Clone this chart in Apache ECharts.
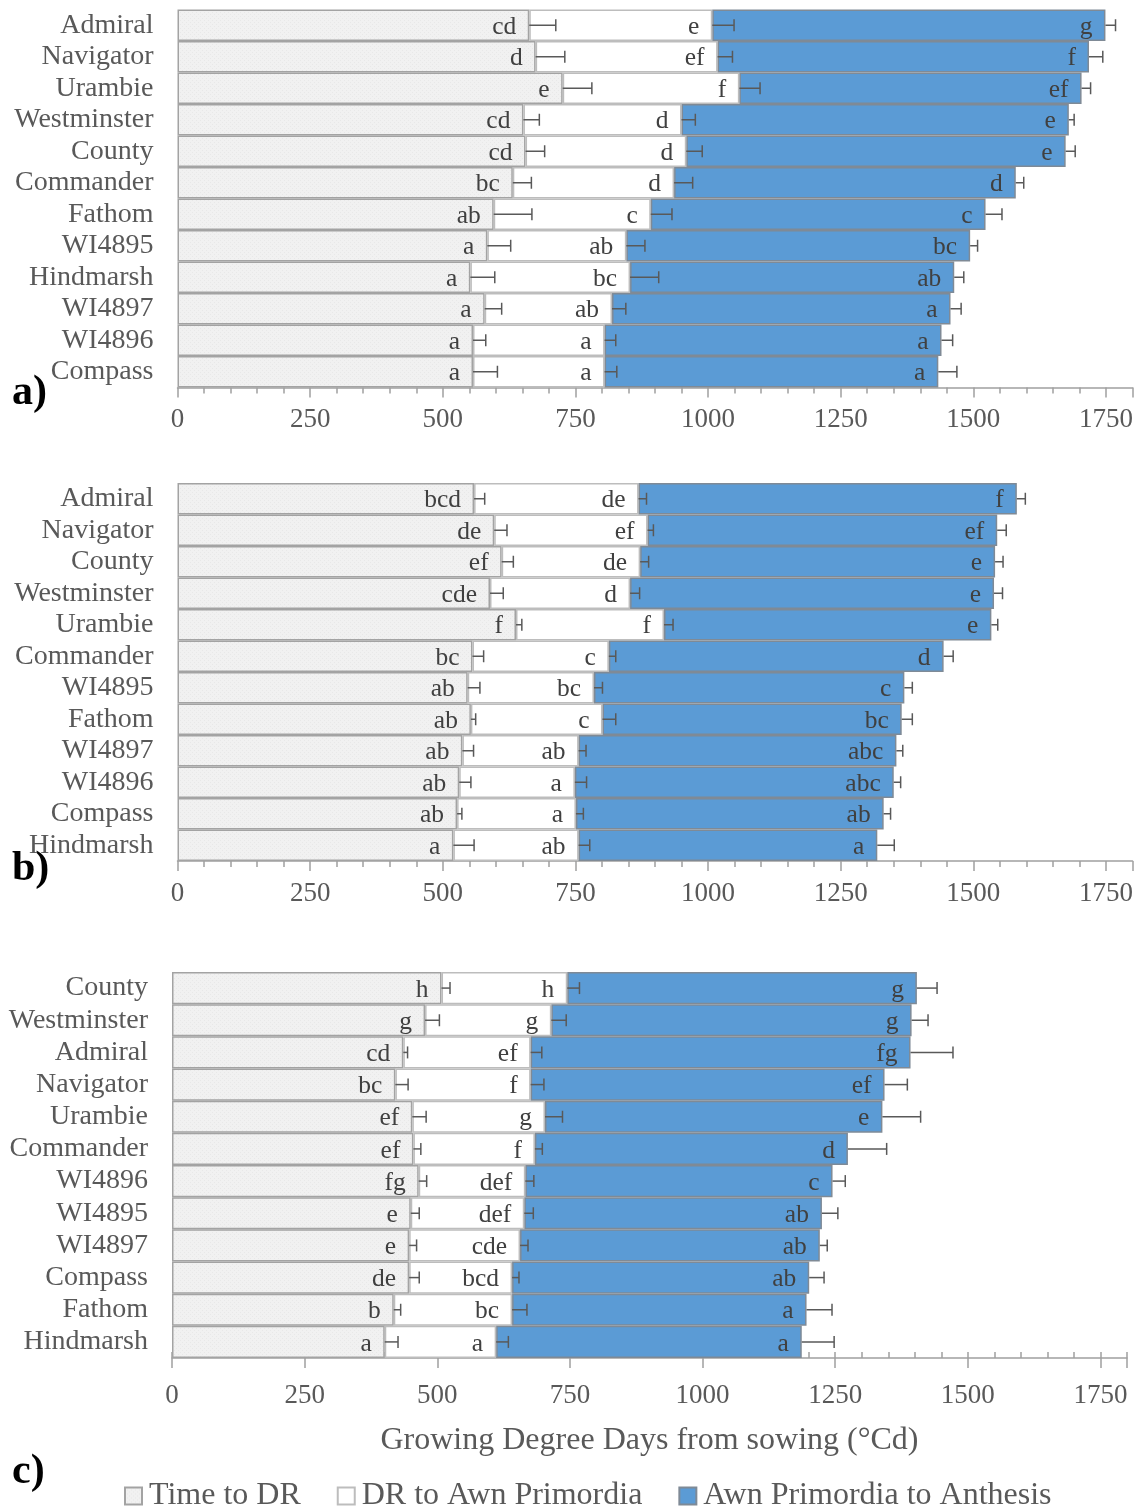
<!DOCTYPE html>
<html>
<head>
<meta charset="utf-8">
<script src="https://cdn.jsdelivr.net/npm/echarts@6/dist/echarts.min.js"></script>
<style>
  html, body { margin: 0; padding: 0; background: #ffffff; }
  #chart { width: 1142px; height: 1510px; }
</style>
</head>
<body>
<div id="chart"></div>
<script>
// ---- Panel a) ----
const catsA = ['Admiral', 'Navigator', 'Urambie', 'Westminster', 'County', 'Commander', 'Fathom', 'WI4895', 'Hindmarsh', 'WI4897', 'WI4896', 'Compass'];
const drA   = [663, 675, 726, 652, 656, 632, 596, 584, 552, 579, 557, 557];
const awnA  = [345, 343, 333, 298, 303, 304, 296, 262, 301, 240, 248, 248];
const anthA = [741, 700, 645, 730, 715, 644, 631, 648, 611, 638, 635, 629];
const errDrA   = [50, 55, 55, 30, 36, 35, 72, 44, 46, 32, 24, 46];
const errAwnA  = [41, 28, 39, 26, 30, 35, 40, 35, 54, 26, 21, 23];
const errAnthA = [19, 26, 17, 10, 18, 15, 31, 14, 18, 20, 21, 35];
const letDrA   = ['cd', 'd', 'e', 'cd', 'cd', 'bc', 'ab', 'a', 'a', 'a', 'a', 'a'];
const letAwnA  = ['e', 'ef', 'f', 'd', 'd', 'd', 'c', 'ab', 'bc', 'ab', 'a', 'a'];
const letAnthA = ['g', 'f', 'ef', 'e', 'e', 'd', 'c', 'bc', 'ab', 'a', 'a', 'a'];

// ---- Panel b) ----
const catsB = ['Admiral', 'Navigator', 'County', 'Westminster', 'Urambie', 'Commander', 'WI4895', 'Fathom', 'WI4897', 'WI4896', 'Compass', 'Hindmarsh'];
const drB   = [559, 597, 611, 589, 638, 556, 547, 553, 537, 531, 527, 520];
const awnB  = [310, 289, 261, 264, 279, 257, 238, 248, 219, 218, 224, 236];
const anthB = [713, 659, 669, 686, 617, 631, 585, 564, 599, 601, 580, 563];
const errDrB   = [20, 24, 22, 25, 11, 21, 23, 9, 21, 22, 9, 39];
const errAwnB  = [15, 11, 16, 18, 17, 13, 16, 25, 14, 22, 14, 21];
const errAnthB = [16, 17, 15, 16, 12, 18, 15, 20, 12, 13, 13, 32];
const letDrB   = ['bcd', 'de', 'ef', 'cde', 'f', 'bc', 'ab', 'ab', 'ab', 'ab', 'ab', 'a'];
const letAwnB  = ['de', 'ef', 'de', 'd', 'f', 'c', 'bc', 'c', 'ab', 'a', 'a', 'ab'];
const letAnthB = ['f', 'ef', 'e', 'e', 'e', 'd', 'c', 'bc', 'abc', 'abc', 'ab', 'a'];

// ---- Panel c) ----
const catsC = ['County', 'Westminster', 'Admiral', 'Navigator', 'Urambie', 'Commander', 'WI4896', 'WI4895', 'WI4897', 'Compass', 'Fathom', 'Hindmarsh'];
const drC   = [508, 477, 436, 421, 453, 455, 465, 450, 447, 447, 418, 401];
const awnC  = [237, 238, 240, 255, 250, 229, 201, 214, 209, 194, 223, 210];
const anthC = [659, 679, 716, 667, 636, 590, 579, 561, 565, 560, 555, 576];
const errDrC   = [16, 27, 8, 24, 26, 14, 15, 16, 14, 19, 13, 25];
const errAwnC  = [23, 28, 21, 25, 33, 14, 16, 17, 15, 13, 28, 23];
const errAnthC = [38, 31, 80, 43, 72, 73, 24, 30, 14, 28, 48, 61];
const letDrC   = ['h', 'g', 'cd', 'bc', 'ef', 'ef', 'fg', 'e', 'e', 'de', 'b', 'a'];
const letAwnC  = ['h', 'g', 'ef', 'f', 'g', 'f', 'def', 'def', 'cde', 'bcd', 'bc', 'a'];
const letAnthC = ['g', 'g', 'fg', 'ef', 'e', 'd', 'c', 'ab', 'ab', 'ab', 'a', 'a'];

// ---- Shared axis / legend text ----
const tickLabels = [0, 250, 500, 750, 1000, 1250, 1500, 1750];
const seriesNames = ['Time to DR', 'DR to Awn Primordia', 'Awn Primordia to Anthesis'];
const axisTitle = 'Growing Degree Days from sowing (°Cd)';
const panelTags = ['a)', 'b)', 'c)'];

const FONT = '"Liberation Serif", "Times New Roman", serif';
const TEXT = '#595959';
const LETTER = '#404040';

// light stippled fill for the first phase
function stipple() {
  const c = document.createElement('canvas');
  c.width = 4; c.height = 4;
  const g = c.getContext('2d');
  g.fillStyle = '#f1f1f1';
  g.fillRect(0, 0, 4, 4);
  g.fillStyle = '#e8e8e8';
  g.fillRect(0, 0, 1, 1);
  g.fillRect(2, 2, 1, 1);
  return c;
}
const grayFill = { image: stipple(), repeat: 'repeat' };

const fills = [grayFill, '#ffffff', '#5b9bd5'];
const borders = ['#a3a3a3', '#bdbdbd', '#7f8a96'];

const panels = [
  { cats: catsA, vals: [drA, awnA, anthA], errs: [errDrA, errAwnA, errAnthA], lets: [letDrA, letAwnA, letAnthA],
    left: 177.5, top: 9.5, height: 378, tickInside: false },
  { cats: catsB, vals: [drB, awnB, anthB], errs: [errDrB, errAwnB, errAnthB], lets: [letDrB, letAwnB, letAnthB],
    left: 177.5, top: 483, height: 378, tickInside: false },
  { cats: catsC, vals: [drC, awnC, anthC], errs: [errDrC, errAwnC, errAnthC], lets: [letDrC, letAwnC, letAnthC],
    left: 172, top: 972, height: 386, tickInside: true }
];

const grid = [], xAxis = [], yAxis = [], series = [];

panels.forEach((p, i) => {
  grid.push({ left: p.left, top: p.top, width: 955, height: p.height, containLabel: false });

  // fine ticks every 50 with the axis line
  xAxis.push({
    type: 'value', gridIndex: i, min: 0, max: 1800, interval: 50, position: 'bottom',
    axisLine: { show: true, lineStyle: { color: '#a0a0a0', width: 1.5 } },
    axisTick: { show: true, inside: p.tickInside, length: 6, lineStyle: { color: '#a0a0a0', width: 1.5 } },
    axisLabel: { show: false },
    splitLine: { show: false }
  });
  // labelled ticks every 250
  const major = {
    type: 'value', gridIndex: i, min: 0, max: 1800, interval: 250, position: 'bottom', offset: 0,
    axisLine: { show: false },
    axisTick: { show: true, inside: false, length: 10, lineStyle: { color: '#a0a0a0', width: 1.5 } },
    axisLabel: {
      show: true, fontFamily: FONT, fontSize: 27, color: TEXT, margin: i === 2 ? 24 : 19,
      formatter: v => (tickLabels.indexOf(v) >= 0 ? String(v) : '')
    },
    splitLine: { show: false }
  };
  if (i === 2) {
    major.name = axisTitle;
    major.nameLocation = 'middle';
    major.nameGap = 67;
    major.nameTextStyle = { fontFamily: FONT, fontSize: 32, color: TEXT };
  }
  xAxis.push(major);

  yAxis.push({
    type: 'category', gridIndex: i, data: p.cats, inverse: true,
    axisLine: { show: false }, axisTick: { show: false },
    axisLabel: { interval: 0, fontFamily: FONT, fontSize: 28, color: TEXT, margin: 24 }
  });

  // stacked phases
  p.vals.forEach((vals, k) => {
    series.push({
      name: seriesNames[k], type: 'bar', stack: 'panel' + i,
      xAxisIndex: i * 2, yAxisIndex: i,
      barCategoryGap: '0%',
      data: vals,
      itemStyle: { color: fills[k], borderColor: borders[k], borderWidth: 1.5 },
      label: {
        show: true, position: 'insideRight', distance: 13, offset: [0, 2],
        fontFamily: FONT, fontSize: 25.5, color: LETTER,
        formatter: prm => p.lets[k][prm.dataIndex]
      },
      emphasis: { disabled: true },
      z: 2
    });
  });

  // error bars at the end of each phase
  const errData = [];
  p.cats.forEach((c, j) => {
    let end = 0;
    for (let k = 0; k < 3; k++) {
      end += p.vals[k][j];
      errData.push([end, j, p.errs[k][j]]);
    }
  });
  series.push({
    name: 'errors' + i, type: 'custom', xAxisIndex: i * 2, yAxisIndex: i,
    data: errData, encode: { x: 0, y: 1 }, clip: false, z: 5, silent: true,
    renderItem: (params, api) => {
      const a = api.coord([api.value(0), api.value(1)]);
      const b = api.coord([api.value(0) + api.value(2), api.value(1)]);
      const st = { stroke: '#595959', lineWidth: 1.5 };
      return {
        type: 'group',
        children: [
          { type: 'line', shape: { x1: a[0], y1: a[1], x2: b[0], y2: b[1] }, style: st },
          { type: 'line', shape: { x1: b[0], y1: b[1] - 6, x2: b[0], y2: b[1] + 6 }, style: st }
        ]
      };
    }
  });
});

const tagY = [394, 870, 1473];
const graphic = panelTags.map((t, i) => ({
  type: 'text', left: 12, top: tagY[i] - 22,
  style: { text: t, font: 'bold 42px ' + FONT, fill: '#000000' }
}));

const chart = echarts.init(document.getElementById('chart'), null, { renderer: 'canvas' });
chart.setOption({
  animation: false,
  backgroundColor: '#ffffff',
  textStyle: { fontFamily: FONT },
  grid, xAxis, yAxis, series, graphic,
  legend: {
    data: seriesNames, left: 124, top: 1480, padding: 0, itemWidth: 17, itemHeight: 17, itemGap: 36,
    icon: 'rect', selectedMode: false,
    textStyle: { fontFamily: FONT, fontSize: 32, color: TEXT, padding: [0, 0, 0, 2] }
  }
});
</script>
</body>
</html>
